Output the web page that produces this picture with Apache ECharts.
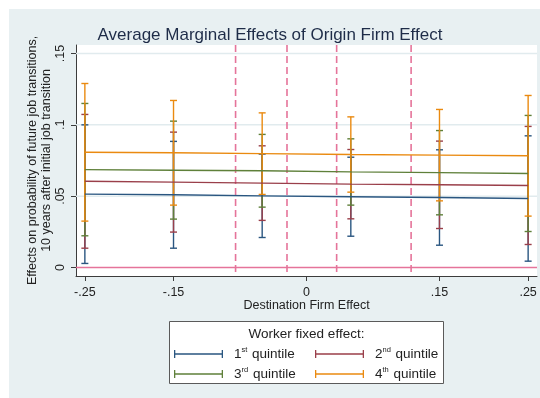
<!DOCTYPE html>
<html>
<head>
<meta charset="utf-8">
<script src="https://cdn.jsdelivr.net/npm/echarts@6/dist/echarts.min.js"></script>
<style>
  html, body { margin: 0; padding: 0; background: #fff; }
  #chart {
    position: absolute; left: 0; top: 0; width: 540px; height: 398px;
    background: linear-gradient(#e8f0f2, #e8f0f2) 9px 9px / 531px 389px no-repeat, #fff;
  }
</style>
</head>
<body>
<div id="chart"></div>
<script>
// Destination firm effect evaluation points
const destEffect = [-0.25, -0.15, -0.05, 0.05, 0.15, 0.25];

// Worker fixed-effect quintiles: point estimates and 95% CI bounds
const q1Est = [0.0514, 0.0510, 0.0502, 0.0496, 0.0490, 0.0484];
const q1Lo  = [0.0028, 0.0135, 0.0210, 0.0219, 0.0156, 0.0044];
const q1Hi  = [0.1000, 0.0884, 0.0795, 0.0773, 0.0825, 0.0923];

const q2Est = [0.0604, 0.0598, 0.0591, 0.0584, 0.0580, 0.0575];
const q2Lo  = [0.0135, 0.0248, 0.0330, 0.0341, 0.0273, 0.0161];
const q2Hi  = [0.1073, 0.0949, 0.0853, 0.0827, 0.0886, 0.0989];

const q3Est = [0.0686, 0.0682, 0.0678, 0.0670, 0.0665, 0.0659];
const q3Lo  = [0.0222, 0.0339, 0.0423, 0.0437, 0.0369, 0.0252];
const q3Hi  = [0.1150, 0.1026, 0.0933, 0.0902, 0.0960, 0.1066];

const q4Est = [0.0808, 0.0804, 0.0798, 0.0792, 0.0788, 0.0783];
const q4Lo  = [0.0325, 0.0437, 0.0512, 0.0528, 0.0467, 0.0360];
const q4Hi  = [0.1290, 0.1171, 0.1084, 0.1056, 0.1108, 0.1206];

// Quintile cut-offs of the destination firm effect
const cutoffs = [-0.080, -0.022, 0.034, 0.118];

// Axis ticks
const xTicks = [-0.25, -0.15, 0, 0.15, 0.25];
const yTicks = [0, 0.05, 0.10, 0.15];
const yGrid = [0.05, 0.10, 0.15];
const yZero = [0];

const seriesNames = ['1st quintile', '2nd quintile', '3rd quintile', '4th quintile'];
const sup = ['st', 'nd', 'rd', 'th'];
const colors = ['#2a5680', '#9a3f4a', '#5f803a', '#ea8a10'];
const groups = [
  [q1Est, q1Lo, q1Hi],
  [q2Est, q2Lo, q2Hi],
  [q3Est, q3Lo, q3Hi],
  [q4Est, q4Lo, q4Hi]
];

const FONT = '"Liberation Sans", Arial, sans-serif';
const refColor = '#e5749a';
const fmt = v => (v === 0 ? '0' : String(+v.toFixed(2)).replace('0.', '.'));

const chart = echarts.init(document.getElementById('chart'), null, { renderer: 'canvas' });

// Capped vertical interval
function capRender(params, api) {
  const x = api.value(0);
  const lo = api.coord([x, api.value(1)]);
  const hi = api.coord([x, api.value(2)]);
  const w = 3.5;
  const c = api.visual('color');
  const st = () => ({ stroke: c, lineWidth: 1.4 });
  return {
    type: 'group',
    children: [
      { type: 'line', shape: { x1: lo[0], y1: lo[1], x2: hi[0], y2: hi[1] }, style: st() },
      { type: 'line', shape: { x1: lo[0] - w, y1: lo[1], x2: lo[0] + w, y2: lo[1] }, style: st() },
      { type: 'line', shape: { x1: hi[0] - w, y1: hi[1], x2: hi[0] + w, y2: hi[1] }, style: st() }
    ]
  };
}

// Full-width horizontal reference line at a y value
function hLineSeries(name, values, style) {
  return {
    type: 'custom', name: name, silent: true, z: 1,
    itemStyle: { color: style.stroke },
    encode: { y: 0 },
    data: values.map(v => [v]),
    renderItem: (params, api) => {
      const cs = params.coordSys;
      const y = api.coord([0, api.value(0)])[1];
      return { type: 'line', shape: { x1: cs.x, y1: y, x2: cs.x + cs.width, y2: y }, style: Object.assign({}, style) };
    }
  };
}

// Full-height vertical reference line at an x value
function vLineSeries(name, values, style) {
  return {
    type: 'custom', name: name, silent: true, z: 2,
    itemStyle: { color: style.stroke },
    encode: { x: 0 },
    data: values.map(v => [v]),
    renderItem: (params, api) => {
      const cs = params.coordSys;
      const x = api.coord([api.value(0), 0])[0];
      return {
        type: 'line',
        shape: { x1: x, y1: cs.y, x2: x, y2: cs.y + cs.height },
        style: Object.assign({}, style, { lineDash: style.lineDash ? style.lineDash.slice() : null })
      };
    }
  };
}

const series = [
  hLineSeries('grid', yGrid, { stroke: '#e1ebee', lineWidth: 1.5 }),
  hLineSeries('zero', yZero, { stroke: refColor, lineWidth: 1.5 }),
  vLineSeries('cuts', cutoffs, { stroke: refColor, lineWidth: 1.6, lineDash: [7, 4] })
];

groups.forEach((g, i) => {
  series.push({
    type: 'custom', name: seriesNames[i], z: 3,
    renderItem: capRender,
    itemStyle: { color: colors[i] },
    encode: { x: 0, y: [1, 2] },
    data: destEffect.map((x, k) => [x, g[1][k], g[2][k]])
  });
});
groups.forEach((g, i) => {
  series.push({
    type: 'line', name: seriesNames[i], z: 4,
    symbol: 'none',
    itemStyle: { color: colors[i] },
    lineStyle: { color: colors[i], width: 1.4 },
    data: destEffect.map((x, k) => [x, g[0][k]])
  });
});

const capIcon = 'path://M0,0h1.3v8h-1.3z M0,3.35h49v1.3h-49z M47.7,0h1.3v8h-1.3z';
const legendPos = [[174, 346], [315, 346], [174, 366], [315, 366]];
const legends = seriesNames.map((n, i) => ({
  data: [n],
  left: legendPos[i][0], top: legendPos[i][1],
  padding: 0, itemWidth: 49, itemHeight: 8,
  icon: capIcon, selectedMode: false,
  formatter: () => '{g|}{n|' + (i + 1) + '}{s|' + sup[i] + '}{q| quintile}',
  textStyle: {
    fontFamily: FONT, color: '#222',
    rich: {
      g: { width: 6 },
      n: { fontSize: 13.5, fontFamily: FONT, color: '#222', lineHeight: 16 },
      s: { fontSize: 7.5, fontFamily: FONT, color: '#222', verticalAlign: 'top', lineHeight: 16, padding: [0, 1, 0, 0] },
      q: { fontSize: 13.5, fontFamily: FONT, color: '#222', lineHeight: 16 }
    }
  }
}));

chart.setOption({
  animation: false,
  backgroundColor: 'transparent',
  textStyle: { fontFamily: FONT },
  title: {
    text: 'Average Marginal Effects of Origin Firm Effect',
    left: 'center', top: 22,
    textStyle: { fontFamily: FONT, fontSize: 17, fontWeight: 'normal', color: '#1e2c48' }
  },
  grid: {
    left: 76, top: 45, right: 3, bottom: 122,
    show: true, backgroundColor: '#fff', borderWidth: 0
  },
  xAxis: {
    type: 'value', min: -0.26, max: 0.26,
    name: 'Destination Firm Effect', nameLocation: 'middle', nameGap: 23, nameMoveOverlap: false,
    nameTextStyle: { fontFamily: FONT, fontSize: 12.5, color: '#222' },
    axisLine: { onZero: false, lineStyle: { color: '#3c3c3c', width: 1 } },
    axisTick: { show: true, length: 5, customValues: xTicks, lineStyle: { color: '#3c3c3c' } },
    axisLabel: { customValues: xTicks, formatter: fmt, margin: 10, fontFamily: FONT, fontSize: 12.5, color: '#222' },
    splitLine: { show: false }
  },
  yAxis: {
    type: 'value', min: -0.006, max: 0.156,
    name: 'Effects on probability of future job transitions,\n10 years after initial job transition',
    nameLocation: 'middle', nameRotate: 90, nameGap: 22, nameMoveOverlap: false,
    nameTextStyle: { fontFamily: FONT, fontSize: 12.5, color: '#222', lineHeight: 14 },
    axisLine: { show: true, onZero: false, lineStyle: { color: '#3c3c3c', width: 1 } },
    axisTick: { show: true, length: 5, customValues: yTicks, lineStyle: { color: '#3c3c3c' } },
    axisLabel: { customValues: yTicks, formatter: fmt, rotate: 90, margin: 9, fontFamily: FONT, fontSize: 12.5, color: '#222' },
    splitLine: { show: false }
  },
  legend: legends,
  graphic: [
    {
      type: 'rect', z: 0,
      shape: { x: 169.5, y: 321.5, width: 274, height: 62 },
      style: { fill: '#fff', stroke: '#5a5a5a', lineWidth: 1 }
    },
    {
      type: 'text', z: 1, x: 306.5, y: 334,
      style: { text: 'Worker fixed effect:', fontFamily: FONT, fontSize: 13.5, fill: '#222', align: 'center', verticalAlign: 'middle' }
    }
  ],
  series: series
});
</script>
</body>
</html>
